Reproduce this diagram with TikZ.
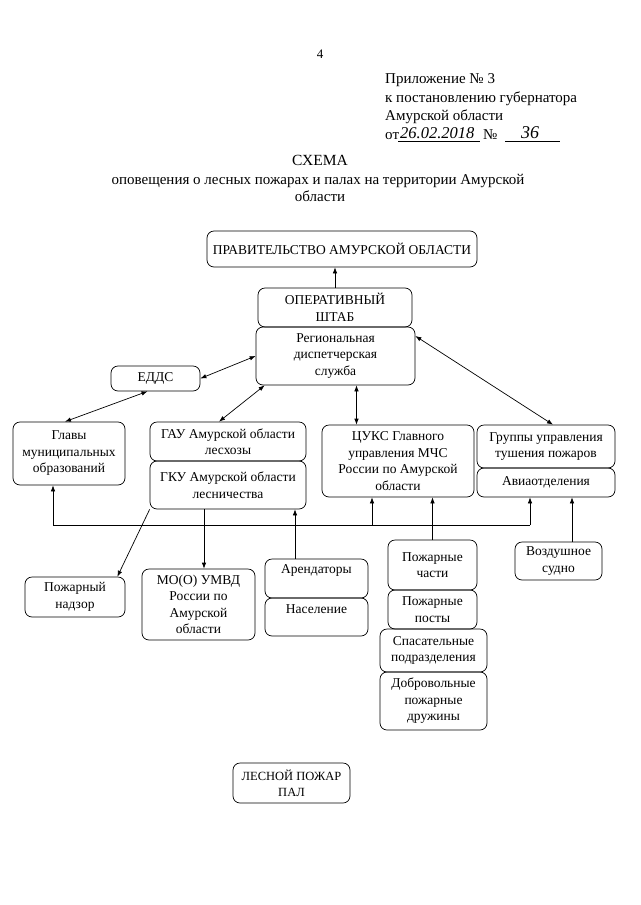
\documentclass[tikz,border=0pt]{standalone}
\usepackage{fontspec}
\setmainfont{Liberation Serif}
\usetikzlibrary{arrows.meta,calc}
\begin{document}
\begin{tikzpicture}[x=1pt,y=-1pt,
  box/.style={draw, rounded corners=7pt, line width=0.7pt, align=center, inner sep=0pt, font=\fontsize{13.5}{16.5}\selectfont},
  arr/.style={line width=0.7pt, -{Latex[length=6pt,width=4.5pt]}},
  darr/.style={line width=0.7pt, {Latex[length=6pt,width=4.5pt]}-{Latex[length=6pt,width=4.5pt]}},
  ln/.style={line width=0.7pt},
  hdr/.style={anchor=base west, inner sep=0pt, font=\fontsize{15}{18}\selectfont},
  ttl/.style={anchor=base, inner sep=0pt, font=\fontsize{15}{18}\selectfont},
  hand/.style={anchor=base west, inner sep=0pt, font=\fontsize{16.5}{17}\selectfont\itshape}]
\useasboundingbox[fill=white] (0,0) rectangle (640,905);

% page number and header
\node[ttl, font=\fontsize{13}{15}\selectfont] (pg) at (320,58) {4};
\node[hdr] (h1) at (385,83) {Приложение № 3};
\node[hdr] (h2) at (385,102) {к постановлению губернатора};
\node[hdr] (h3) at (385,120) {Амурской области};
\node[hdr] (h4) at (385,139) {от};
\node[hand] (hd) at (400,138) {26.02.2018};
\node[hdr] (h5) at (483,139) {№};
\node[hand, font=\fontsize{18}{18}\selectfont\itshape] (hn) at (521,138) {36};
\draw[ln] (398,141) -- (480,141);
\draw[ln] (505,141) -- (560,141);

% title
\node[ttl, font=\fontsize{15.5}{18}\selectfont] (t1) at (320,165) {СХЕМА};
\node[ttl] (t2) at (318,184) {оповещения о лесных пожарах и палах на территории Амурской};
\node[ttl] (t3) at (320,201) {области};

% boxes
\node[box, minimum width=270pt, minimum height=36pt] (gov) at (342,249) {ПРАВИТЕЛЬСТВО АМУРСКОЙ ОБЛАСТИ};
\node[box, minimum width=154pt, minimum height=39pt] (op) at (335,307.5) {ОПЕРАТИВНЫЙ\\ШТАБ};
\node[box, minimum width=159pt, minimum height=58pt] (reg) at (335.5,356) {Региональная\\диспетчерская\\служба};
\node[box, minimum width=89pt, minimum height=25pt] (edds) at (155.5,378.5) {ЕДДС};
\node[box, minimum width=112pt, minimum height=63pt] (glavy) at (69,453.5) {Главы\\муниципальных\\образований};
\node[box, minimum width=156pt, minimum height=39pt] (gau) at (228,441.5) {ГАУ Амурской области\\лесхозы};
\node[box, minimum width=156pt, minimum height=48pt] (gku) at (228,485) {ГКУ Амурской области\\лесничества};
\node[box, minimum width=152pt, minimum height=72pt] (cuks) at (398,461) {ЦУКС Главного\\управления МЧС\\России по Амурской\\области};
\node[box, minimum width=138pt, minimum height=43pt] (grp) at (546,446.5) {Группы управления\\тушения пожаров};
\node[box, minimum width=138pt, minimum height=29pt] (avia) at (546,482.5) {Авиаотделения};
\node[box, minimum width=100pt, minimum height=40pt] (nadzor) at (75,597) {Пожарный\\надзор};
\node[box, minimum width=113pt, minimum height=71pt] (mo) at (198.5,604.5) {МО(О) УМВД\\России по\\Амурской\\области};
\node[box, minimum width=103pt, minimum height=39pt] (arend) at (316.5,578.5) {Арендаторы\\[3pt]\mbox{}};
\node[box, minimum width=103pt, minimum height=38pt] (nasel) at (316.5,617) {Население\\\mbox{}};
\node[box, minimum width=89pt, minimum height=50pt] (pch) at (432.5,565) {Пожарные\\части};
\node[box, minimum width=89pt, minimum height=39pt] (ppost) at (432.5,609.5) {Пожарные\\посты};
\node[box, minimum width=107pt, minimum height=43pt] (spas) at (433.5,650.5) {Спасательные\\подразделения};
\node[box, minimum width=107pt, minimum height=58pt] (dobr) at (433.5,701) {Добровольные\\пожарные\\дружины};
\node[box, minimum width=87pt, minimum height=38pt] (vozd) at (558.5,561) {Воздушное\\судно};
\node[box, minimum width=117pt, minimum height=40pt, font=\fontsize{12.5}{16}\selectfont] (les) at (291.5,783) {ЛЕСНОЙ ПОЖАР\\ПАЛ};

% connectors
\draw[arr] (op.north) -- (op.north |- gov.south);
\draw[darr] (reg.west) -- (edds.east);
\draw[darr] ([xshift=-8pt]edds.south) -- ([xshift=-4pt]glavy.north);
\draw[darr] ([xshift=9pt]reg.south west) -- ([xshift=-9pt]gau.north);
\draw[darr] ([xshift=21pt]reg.south) -- ([xshift=21pt]reg.south |- cuks.north);
\draw[darr] ([yshift=20pt]reg.east) -- ([xshift=7pt]grp.north);

\coordinate (bL) at (53,525);
\coordinate (bC) at (372,525);
\coordinate (bR) at (530,525);
\draw[ln] (bL) -- (bR);
\draw[arr] (bL) -- (bL |- glavy.south);
\draw[arr] (bC) -- (bC |- cuks.south);
\draw[arr] (bR) -- (bR |- avia.south);
\draw[arr] ([xshift=-21.5pt]arend.north) -- ([xshift=-21.5pt]arend.north |- gku.south);
\draw[arr] (pch.north) -- (pch.north |- cuks.south);
\draw[arr] ([xshift=13.5pt]vozd.north) -- ([xshift=13.5pt]vozd.north |- avia.south);
\draw[arr] ([xshift=5.5pt]mo.north |- gku.south) -- ([xshift=5.5pt]mo.north);
\draw[arr] (gku.south west) -- ([xshift=-8pt]nadzor.north east);
\end{tikzpicture}
\end{document}
